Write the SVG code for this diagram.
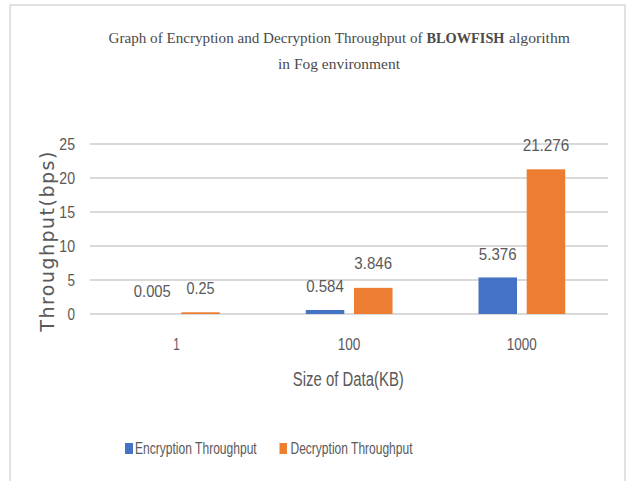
<svg xmlns="http://www.w3.org/2000/svg" width="627" height="481" viewBox="0 0 627 481">
<style>
.grid{stroke:#d9d9d9;stroke-width:1.8}
.lbl{font-family:"Liberation Sans",Arial,sans-serif;font-size:16.5px;fill:#595959;text-anchor:middle}
.tick{font-family:"Liberation Sans",Arial,sans-serif;font-size:16.5px;fill:#595959}
.enc{fill:#4472C4}
.dec{fill:#ED7D31}
.ttl{font-family:"Liberation Serif","Times New Roman",serif;font-size:14.8px;fill:#4a4a4a}
.leg{font-family:"Liberation Sans",Arial,sans-serif;font-size:17px;fill:#595959}
</style>
<rect x="0" y="0" width="627" height="481" fill="#ffffff"/>
<rect id="frame" x="10" y="5" width="615" height="490" fill="#ffffff" stroke="#d9d9d9" stroke-width="1.5"/>
<g id="title">
<text class="ttl" x="108.5" y="43" textLength="314" lengthAdjust="spacingAndGlyphs">Graph of Encryption and  Decryption Throughput of</text>
<text class="ttl" x="426.5" y="43" font-weight="bold" textLength="78" lengthAdjust="spacingAndGlyphs">BLOWFISH</text>
<text class="ttl" x="509" y="43" textLength="61" lengthAdjust="spacingAndGlyphs">algorithm</text>
<text class="ttl" x="339" y="69" text-anchor="middle" font-size="16" textLength="122" lengthAdjust="spacingAndGlyphs">in Fog environment</text>
</g>
<g id="grid">
<line class="grid" x1="90" y1="144" x2="608" y2="144"/>
<line class="grid" x1="90" y1="178" x2="608" y2="178"/>
<line class="grid" x1="90" y1="212" x2="608" y2="212"/>
<line class="grid" x1="90" y1="246" x2="608" y2="246"/>
<line class="grid" x1="90" y1="280" x2="608" y2="280"/>
<line class="grid" x1="90" y1="314" x2="608" y2="314"/>
</g>
<g id="yticks" class="tick" text-anchor="end">
<text x="75" y="150" textLength="15.7" lengthAdjust="spacingAndGlyphs">25</text>
<text x="75" y="184" textLength="15.7" lengthAdjust="spacingAndGlyphs">20</text>
<text x="75" y="218" textLength="15.7" lengthAdjust="spacingAndGlyphs">15</text>
<text x="75" y="252" textLength="15.7" lengthAdjust="spacingAndGlyphs">10</text>
<text x="75" y="286" textLength="7.5" lengthAdjust="spacingAndGlyphs">5</text>
<text x="75" y="320" textLength="7.5" lengthAdjust="spacingAndGlyphs">0</text>
</g>
<g id="ytitle">
<text x="0" y="0" transform="translate(54,241.7) rotate(-90)" font-family="'DejaVu Sans',Verdana,sans-serif" font-size="19" fill="#595959" text-anchor="middle" textLength="180" lengthAdjust="spacing">Throughput(bps)</text>
</g>
<g id="bars">
<rect class="enc" x="133.1" y="313.97" width="38.5" height="0.03"/>
<rect class="dec" x="181.3" y="312.3" width="38.5" height="1.7"/>
<rect class="enc" x="305.8" y="310.03" width="38.5" height="3.97"/>
<rect class="dec" x="354" y="287.85" width="38.5" height="26.15"/>
<rect class="enc" x="478.5" y="277.44" width="38.5" height="36.56"/>
<rect class="dec" x="526.7" y="169.32" width="38.5" height="144.68"/>
</g>
<g id="datalabels">
<text class="lbl" x="152.3" y="296.5" textLength="37" lengthAdjust="spacingAndGlyphs">0.005</text>
<text class="lbl" x="200.5" y="294.3" textLength="28" lengthAdjust="spacingAndGlyphs">0.25</text>
<text class="lbl" x="325" y="292.3" textLength="37.7" lengthAdjust="spacingAndGlyphs">0.584</text>
<text class="lbl" x="373.2" y="268.6" textLength="37.7" lengthAdjust="spacingAndGlyphs">3.846</text>
<text class="lbl" x="497.7" y="260" textLength="37.7" lengthAdjust="spacingAndGlyphs">5.376</text>
<text class="lbl" x="546" y="151" textLength="46.7" lengthAdjust="spacingAndGlyphs">21.276</text>
</g>
<g id="xticks" class="tick" text-anchor="middle" font-size="17.5">
<text x="176.5" y="350" textLength="6.5" lengthAdjust="spacingAndGlyphs">1</text>
<text x="349" y="350" textLength="22.7" lengthAdjust="spacingAndGlyphs">100</text>
<text x="521.7" y="350" textLength="30" lengthAdjust="spacingAndGlyphs">1000</text>
</g>
<g id="xtitle">
<text x="348.3" y="386" font-family="'Liberation Sans',Arial,sans-serif" font-size="19.5" fill="#595959" text-anchor="middle" textLength="111" lengthAdjust="spacingAndGlyphs">Size of Data(KB)</text>
</g>
<g id="legend">
<rect class="enc" x="125" y="443" width="8" height="11"/>
<text class="leg" x="135" y="453.5" textLength="121.7" lengthAdjust="spacingAndGlyphs">Encryption Throughput</text>
<rect class="dec" x="279.5" y="443" width="7.5" height="11"/>
<text class="leg" x="290.5" y="453.5" textLength="122" lengthAdjust="spacingAndGlyphs">Decryption Throughput</text>
</g>
</svg>
